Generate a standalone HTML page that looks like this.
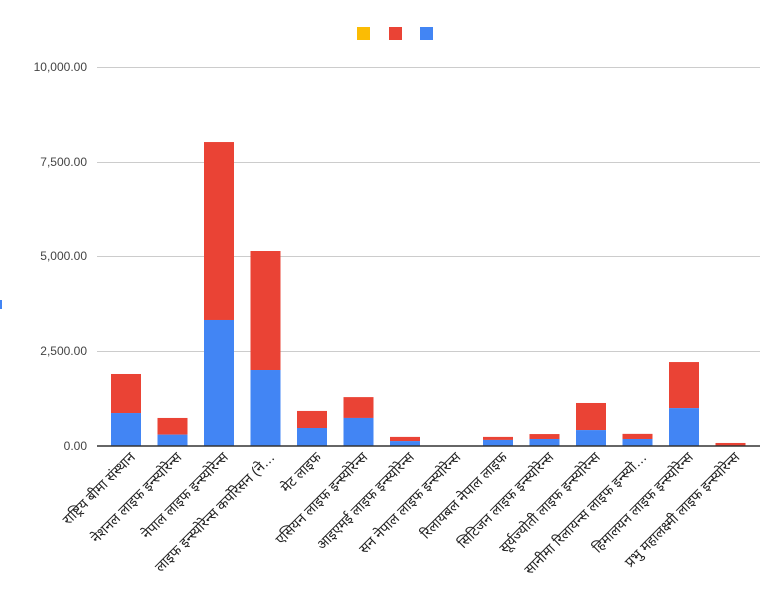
<!DOCTYPE html>
<html><head><meta charset="utf-8"><style>
html,body{margin:0;padding:0;background:#fff;}
svg{display:block;font-family:"Liberation Sans","Noto Sans CJK SC",sans-serif;}
</style></head><body>
<svg width="767" height="598" viewBox="0 0 767 598" xmlns="http://www.w3.org/2000/svg">
<rect width="767" height="598" fill="#fff"/>
<rect x="357" y="27" width="13" height="13" fill="#fbbc04"/>
<rect x="389" y="27" width="13" height="13" fill="#ea4335"/>
<rect x="420" y="27" width="13" height="13" fill="#4285f4"/>
<rect x="0" y="300" width="2" height="9" fill="#4285f4"/>
<g stroke="#cccccc" stroke-width="1">
<line x1="97" y1="67.5" x2="760" y2="67.5"/>
<line x1="97" y1="162.5" x2="760" y2="162.5"/>
<line x1="97" y1="256.5" x2="760" y2="256.5"/>
<line x1="97" y1="351.5" x2="760" y2="351.5"/>
</g>
<g font-size="12" fill="#444" text-anchor="end">
<text x="87" y="71">10,000.00</text>
<text x="87" y="166">7,500.00</text>
<text x="87" y="260">5,000.00</text>
<text x="87" y="355">2,500.00</text>
<text x="87" y="450">0.00</text>
</g>
<g id="bars"></g>
<line x1="97" y1="446" x2="760" y2="446" stroke="#333" stroke-width="1.5"/>
<g id="labels" font-size="14" fill="#222" text-anchor="end"></g>
<script>
var d=[[870,1900,"राष्ट्रिय बीमा संस्थान"],[300,740,"नेशनल लाइफ इन्स्योरेन्स"],[3325,8020,"नेपाल लाइफ इन्स्योरेन्स"],[2005,5145,"लाइफ इन्स्योरेन्स कर्पोरेसन (ने…"],[475,925,"मेट लाइफ"],[740,1290,"एसियन लाइफ इन्स्योरेन्स"],[130,240,"आइएमई लाइफ इन्स्योरेन्स"],[0,0,"सन नेपाल लाइफ इन्स्योरेन्स"],[160,240,"रिलायबल नेपाल लाइफ"],[185,315,"सिटिजन लाइफ इन्स्योरेन्स"],[420,1135,"सूर्यज्योती लाइफ इन्स्योरेन्स"],[185,320,"सानीमा रिलायन्स लाइफ इन्स्यो…"],[1000,2215,"हिमालयन लाइफ इन्स्योरेन्स"],[10,80,"प्रभु महालक्ष्मी लाइफ इन्स्योरेन्स"]];
var ns="http://www.w3.org/2000/svg",b=document.getElementById("bars"),l=document.getElementById("labels");
function y(v){return 446-v*0.0379;}
d.forEach(function(e,i){var cx=126+i*46.5;
if(e[1]>0){var r=document.createElementNS(ns,"rect");r.setAttribute("x",cx-15);r.setAttribute("width",30);r.setAttribute("y",y(e[1]));r.setAttribute("height",(e[1]-e[0])*0.0379);r.setAttribute("fill","#ea4335");b.appendChild(r);
var s=document.createElementNS(ns,"rect");s.setAttribute("x",cx-15);s.setAttribute("width",30);s.setAttribute("y",y(e[0]));s.setAttribute("height",e[0]*0.0379);s.setAttribute("fill","#4285f4");b.appendChild(s);}
var t=document.createElementNS(ns,"text");var tx=cx+10,ty=458;t.setAttribute("x",tx);t.setAttribute("y",ty);t.setAttribute("transform","rotate(-45 "+tx+" "+ty+")");t.textContent=e[2];l.appendChild(t);});
</script>
</svg>
</body></html>
